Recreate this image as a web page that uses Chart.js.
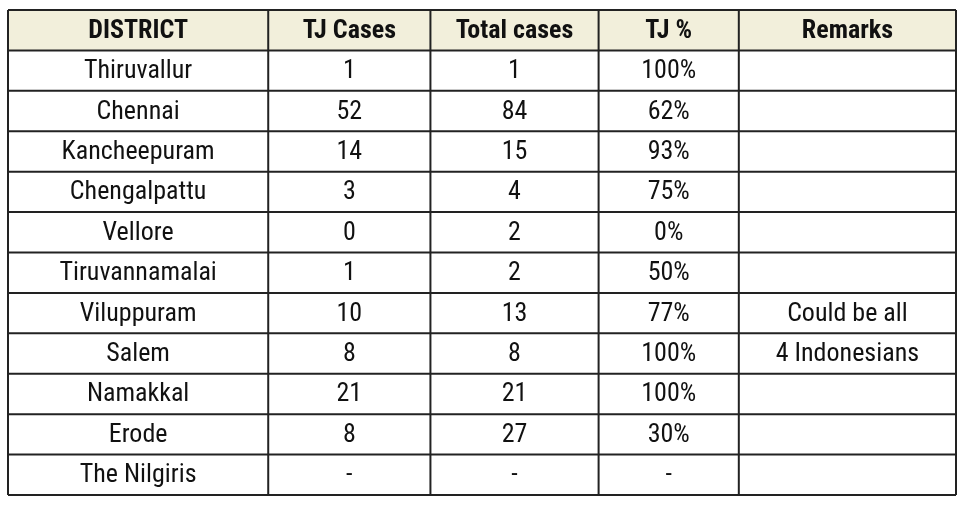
<!DOCTYPE html>
<html>
<head>
<meta charset="utf-8">
<script src="https://cdn.jsdelivr.net/npm/chart.js@4"></script>
<style>
  html, body { margin: 0; padding: 0; background: #fff; }
  #wrap { position: relative; width: 966px; height: 509px; }
</style>
</head>
<body>
<div id="wrap"><canvas id="tableChart"></canvas></div>
<script>
const headers = ['DISTRICT', 'TJ Cases', 'Total cases', 'TJ %', 'Remarks'];
const districts = ['Thiruvallur', 'Chennai', 'Kancheepuram', 'Chengalpattu', 'Vellore',
    'Tiruvannamalai', 'Viluppuram', 'Salem', 'Namakkal', 'Erode', 'The Nilgiris'];
const tjCases = ['1', '52', '14', '3', '0', '1', '10', '8', '21', '8', '-'];
const totalCases = ['1', '84', '15', '4', '2', '2', '13', '8', '21', '27', '-'];
const tjPercent = ['100%', '62%', '93%', '75%', '0%', '50%', '77%', '100%', '100%', '30%', '-'];
const remarks = ['', '', '', '', '', '', 'Could be all', '4 Indonesians', '', '', ''];

// column edges as fractions of the table width (layout only)
const colEdges = [0, 0.2745, 0.4456, 0.6230, 0.7709, 1];
const FONT = '"Liberation Sans Narrow", "Roboto Condensed", Roboto, sans-serif';

const rowLabels = ['__header__'].concat(districts);
const columns = [districts, tjCases, totalCases, tjPercent, remarks];

const tablePlugin = {
    id: 'tablePlugin',
    afterDraw(chart) {
        const ctx = chart.ctx;
        const y = chart.scales.y;
        const area = chart.chartArea;
        const w = area.right - area.left;
        const xs = colEdges.map(f => area.left + f * w);
        const rowH = y.getPixelForValue(1) - y.getPixelForValue(0);

        ctx.save();
        // header background
        const hTop = y.getPixelForValue(0) - rowH / 2;
        ctx.fillStyle = '#f2efdb';
        ctx.fillRect(area.left, hTop, w, rowH);

        // borders
        ctx.strokeStyle = '#222';
        ctx.lineWidth = 2;
        for (let r = 0; r <= rowLabels.length; r++) {
            const py = y.getPixelForValue(0) - rowH / 2 + r * rowH;
            ctx.beginPath();
            ctx.moveTo(area.left, py);
            ctx.lineTo(area.right, py);
            ctx.stroke();
        }
        xs.forEach(px => {
            ctx.beginPath();
            ctx.moveTo(px, area.top);
            ctx.lineTo(px, area.bottom);
            ctx.stroke();
        });

        ctx.textAlign = 'center';
        ctx.textBaseline = 'middle';
        ctx.fillStyle = '#111';
        // header text
        ctx.font = 'bold 26px ' + FONT;
        headers.forEach((h, c) => {
            ctx.fillText(h, (xs[c] + xs[c + 1]) / 2, y.getPixelForValue(0) + 1);
        });
        // body text
        ctx.font = '26px ' + FONT;
        districts.forEach((d, i) => {
            const py = y.getPixelForValue(i + 1) + 1;
            columns.forEach((col, c) => {
                if (col[i]) ctx.fillText(col[i], (xs[c] + xs[c + 1]) / 2, py);
            });
        });
        ctx.restore();
    }
};

new Chart(document.getElementById('tableChart'), {
    type: 'bar',
    data: {
        labels: rowLabels,
        datasets: [{ data: rowLabels.map(() => null) }]
    },
    options: {
        indexAxis: 'y',
        responsive: true,
        maintainAspectRatio: false,
        animation: false,
        layout: { padding: { left: 8, right: 10, top: 10, bottom: 14 } },
        plugins: { legend: { display: false }, tooltip: { enabled: false } },
        scales: {
            x: { display: false, min: 0, max: 1 },
            y: { display: false, offset: true }
        }
    },
    plugins: [tablePlugin]
});
</script>
</body>
</html>
